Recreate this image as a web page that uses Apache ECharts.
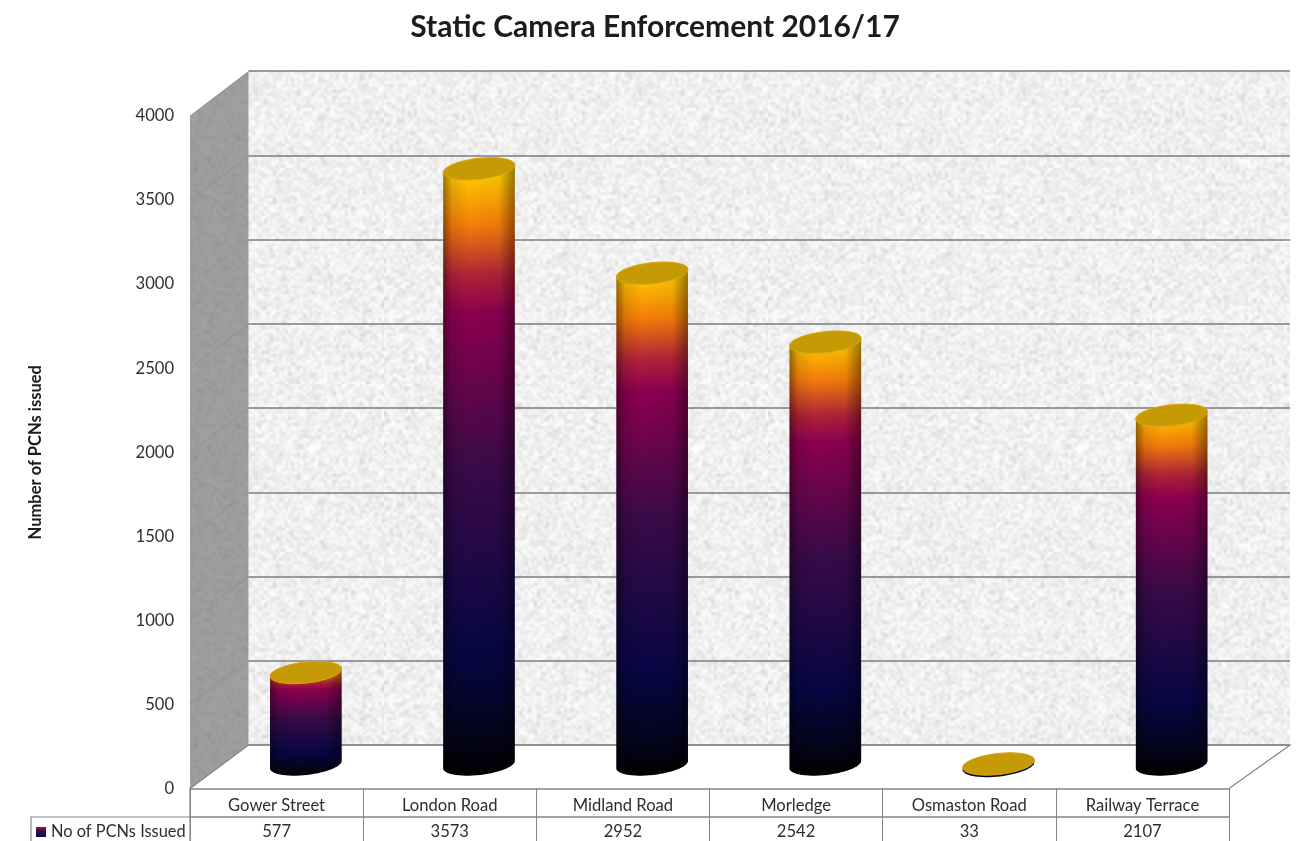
<!DOCTYPE html>
<html>
<head>
<meta charset="utf-8">
<title>Static Camera Enforcement 2016/17</title>
<style>
html, body { margin: 0; padding: 0; background: #fff; }
#chart { width: 1307px; height: 841px; }
</style>
<script src="https://cdn.jsdelivr.net/npm/echarts@6/dist/echarts.min.js"></script>
</head>
<body>
<div id="chart"></div>
<script>
// Penalty charge notices issued per static camera site
const categories = ['Gower Street', 'London Road', 'Midland Road', 'Morledge', 'Osmaston Road', 'Railway Terrace'];
const pcnsIssued = [577, 3573, 2952, 2542, 33, 2107];
const seriesName = 'No of PCNs Issued';
const axisTicks = [0, 500, 1000, 1500, 2000, 2500, 3000, 3500, 4000];

const FONT = 'Lato, "Noto Sans", sans-serif';
const TEXT = '#2e2e2e';
const EDGE = '#858585';

// Depth of the 3D box: how far the back wall sits from the front plane
const DEPTH_X = 58.5;
const DEPTH_Y = 44;
const TILT = -6.5 * Math.PI / 180;

const columnStops = [
  { offset: 0, color: '#000000' },
  { offset: 0.07, color: '#04041c' },
  { offset: 0.2, color: '#060644' },
  { offset: 0.5, color: '#3a0a48' },
  { offset: 0.75, color: '#8c0050' },
  { offset: 0.81, color: '#b02238' },
  { offset: 0.89, color: '#f47c0a' },
  { offset: 0.97, color: '#ffc800' },
  { offset: 1, color: '#ffc800' }
];

// Stable hash so the stucco texture comes out identical on every load
function hash(x, y, seed) {
  const s = Math.sin(x * 127.1 + y * 311.7 + seed * 74.7) * 43758.5453;
  return s - Math.floor(s);
}

function stucco(base, spread, tile) {
  const small = document.createElement('canvas');
  small.width = small.height = tile;
  const sctx = small.getContext('2d');
  const img = sctx.createImageData(tile, tile);
  for (let y = 0; y < tile; y++) {
    for (let x = 0; x < tile; x++) {
      const v = base + (hash(x, y, 1) - 0.5) * spread + (hash(x, y, 2) > 0.9 ? -spread * 0.6 : 0);
      const i = (y * tile + x) * 4;
      img.data[i] = img.data[i + 1] = img.data[i + 2] = v;
      img.data[i + 3] = 255;
    }
  }
  sctx.putImageData(img, 0, 0);
  const big = document.createElement('canvas');
  big.width = big.height = tile * 3;
  const bctx = big.getContext('2d');
  bctx.imageSmoothingEnabled = true;
  bctx.imageSmoothingQuality = 'high';
  bctx.drawImage(small, 0, 0, tile * 3, tile * 3);
  return big;
}

function ellipsePoints(cx, cy, rx, ry, from, to, steps) {
  const pts = [];
  for (let i = 0; i <= steps; i++) {
    const t = from + (to - from) * i / steps;
    pts.push([
      cx + rx * Math.cos(t) * Math.cos(TILT) - ry * Math.sin(t) * Math.sin(TILT),
      cy + rx * Math.cos(t) * Math.sin(TILT) + ry * Math.sin(t) * Math.cos(TILT)
    ]);
  }
  return pts;
}

// One tilted cylinder standing mid-way across the floor of the box
function renderColumn(params, api) {
  const idx = api.value(0);
  const top = api.coord([idx, api.value(1)]);
  const base = api.coord([idx, 0]);
  const rx = api.size([1, 0])[0] * 0.208;
  const ry = 10.5;
  const cx = top[0] + DEPTH_X / 2;
  const topY = top[1] - 19;
  // A very short column still keeps a thin visible rim under its lid
  const baseY = Math.max(base[1] - 24, topY + 2);
  const body = ellipsePoints(cx, baseY, rx, ry, 0, Math.PI, 30)
    .concat(ellipsePoints(cx, topY, rx, ry, Math.PI, 2 * Math.PI, 30));
  const lid = ellipsePoints(cx, topY, rx, ry, 0, 2 * Math.PI, 60);
  return {
    type: 'group',
    children: [
      {
        type: 'polygon',
        shape: { points: body },
        style: { fill: { type: 'linear', x: 0, y: 1, x2: 0, y2: 0, colorStops: columnStops } }
      },
      {
        type: 'polygon',
        shape: { points: body },
        style: {
          fill: {
            type: 'linear', x: 0, y: 0, x2: 1, y2: 0,
            colorStops: [
              { offset: 0, color: 'rgba(0,0,0,0.42)' },
              { offset: 0.12, color: 'rgba(0,0,0,0.1)' },
              { offset: 0.35, color: 'rgba(0,0,0,0)' },
              { offset: 0.78, color: 'rgba(0,0,0,0.04)' },
              { offset: 1, color: 'rgba(0,0,0,0.42)' }
            ]
          }
        }
      },
      {
        type: 'polygon',
        shape: { points: lid },
        style: { fill: '#c69a05', stroke: '#dba812', lineWidth: 1 }
      }
    ]
  };
}

// Receding tick lines along the left side wall
function renderSideLine(params, api) {
  const p = api.coord([0, api.value(0)]);
  const x0 = params.coordSys.x;
  return {
    type: 'line',
    shape: { x1: x0, y1: p[1], x2: x0 + DEPTH_X, y2: p[1] - DEPTH_Y },
    style: { stroke: '#929292', lineWidth: 1 }
  };
}

const frontLeft = 190, frontRight = 1229, frontTop = 116, frontBottom = 788.5;
const backLeft = frontLeft + DEPTH_X, backRight = 1290, backTop = 71, backBottom = 745;

const chart = echarts.init(document.getElementById('chart'), null, { renderer: 'canvas' });

chart.setOption({
  animation: false,
  backgroundColor: '#ffffff',
  title: {
    text: 'Static Camera Enforcement 2016/17',
    left: 650,
    textAlign: 'center',
    top: 7,
    textStyle: { fontFamily: FONT, fontSize: 30, fontWeight: 'bold', color: '#1c1c1c' }
  },
  legend: {
    left: 36,
    top: 824,
    padding: 0,
    itemWidth: 10,
    itemHeight: 10,
    itemGap: 4,
    data: [{
      name: seriesName,
      icon: 'rect',
      itemStyle: { color: { type: 'linear', x: 0, y: 1, x2: 0, y2: 0, colorStops: [
        { offset: 0, color: '#07074e' }, { offset: 0.6, color: '#3a0a48' }, { offset: 1, color: '#a01040' }
      ] } }
    }],
    textStyle: { fontFamily: FONT, fontSize: 16.4, color: TEXT, padding: 0 }
  },
  grid: [
    { left: frontLeft, width: frontRight - frontLeft, top: frontTop, height: frontBottom - frontTop, show: false },
    {
      left: backLeft, width: backRight - backLeft, top: backTop, height: backBottom - backTop,
      show: true, borderWidth: 0,
      backgroundColor: { image: stucco(241, 24, 128), repeat: 'repeat' }
    }
  ],
  xAxis: [
    {
      type: 'category', gridIndex: 0, data: categories, position: 'bottom',
      axisLine: { show: true, lineStyle: { color: EDGE, width: 1.5 } },
      axisTick: { show: true, length: 53, lineStyle: { color: EDGE, width: 1 } },
      axisLabel: { margin: 9, fontFamily: FONT, fontSize: 16.6, color: TEXT }
    },
    {
      type: 'category', gridIndex: 0, data: pcnsIssued.map(String), position: 'bottom', offset: 28,
      axisLine: { show: true, lineStyle: { color: EDGE, width: 1.5 } },
      axisTick: { show: false },
      axisLabel: { margin: 7, fontFamily: FONT, fontSize: 16.6, color: TEXT }
    },
    { type: 'category', gridIndex: 1, data: categories, show: false }
  ],
  yAxis: [
    {
      type: 'value', gridIndex: 0, min: 0, max: 4000, interval: 500, position: 'left',
      name: 'Number of PCNs issued',
      nameLocation: 'middle',
      nameGap: 146,
      nameTextStyle: { fontFamily: FONT, fontSize: 16.5, fontWeight: 'bold', color: '#1c1c1c' },
      axisLine: { show: false }, axisTick: { show: false }, splitLine: { show: false },
      axisLabel: { margin: 16, fontFamily: FONT, fontSize: 16.6, color: TEXT, formatter: v => String(v) }
    },
    {
      type: 'value', gridIndex: 1, min: 0, max: 4000, interval: 500,
      axisLine: { show: false }, axisTick: { show: false }, axisLabel: { show: false },
      splitLine: { show: true, lineStyle: { color: '#7d7d7d', width: 1.5 } }
    }
  ],
  series: [
    {
      type: 'custom',
      name: 'side wall ticks',
      xAxisIndex: 0,
      yAxisIndex: 0,
      z: 1,
      silent: true,
      data: axisTicks.map(t => [t]),
      encode: { y: 0 },
      renderItem: renderSideLine
    },
    {
      type: 'custom',
      name: seriesName,
      xAxisIndex: 0,
      yAxisIndex: 0,
      z: 5,
      data: pcnsIssued.map((v, i) => [i, v]),
      encode: { x: 0, y: 1 },
      renderItem: renderColumn
    }
  ],
  graphic: [
    // Left wall of the box
    {
      type: 'polygon', z: 0, silent: true,
      shape: { points: [[frontLeft, frontTop], [backLeft, backTop], [backLeft, backBottom], [frontLeft, frontBottom]] },
      style: { fill: { image: stucco(157, 9, 96), repeat: 'repeat' } }
    },
    // Floor outline
    {
      type: 'polyline', z: 3, silent: true,
      shape: { points: [[frontLeft, frontBottom], [backLeft, backBottom], [backRight, backBottom], [frontRight, frontBottom]] },
      style: { stroke: EDGE, lineWidth: 1.2, fill: 'none' }
    },
    // Left border of the data table, and the legend cell
    {
      type: 'polyline', z: 3, silent: true,
      shape: { points: [[frontLeft, frontBottom], [frontLeft, 841]] },
      style: { stroke: EDGE, lineWidth: 1.2, fill: 'none' }
    },
    {
      type: 'polyline', z: 3, silent: true,
      shape: { points: [[31, 841], [31, 817], [frontLeft, 817]] },
      style: { stroke: EDGE, lineWidth: 1.2, fill: 'none' }
    }
  ]
});
</script>
</body>
</html>
